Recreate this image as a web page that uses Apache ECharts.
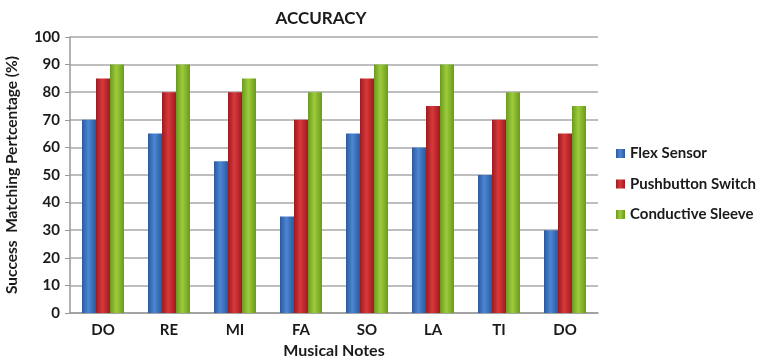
<!DOCTYPE html>
<html><head><meta charset="utf-8">
<script src="https://cdn.jsdelivr.net/npm/echarts@6/dist/echarts.min.js"></script>
<style>html,body{margin:0;padding:0;background:#fff}#c{width:762px;height:360px}</style>
</head><body><div id="c"></div>
<script>
const categories = ['DO','RE','MI','FA','SO','LA','TI','DO'];
const flexSensor = [70,65,55,35,65,60,50,30];
const pushbuttonSwitch = [85,80,80,70,85,75,70,65];
const conductiveSleeve = [90,90,85,80,90,90,80,75];
const yTicks = [0,10,20,30,40,50,60,70,80,90,100];

const font = 'Lato, "Open Sans", sans-serif';
function grad(dark, light){
  return new echarts.graphic.LinearGradient(0,0,1,0,[
    {offset:0,color:dark},{offset:0.45,color:light},{offset:1,color:dark}]);
}
const chart = echarts.init(document.getElementById('c'));
chart.setOption({
  animation:false,
  title:{text:'ACCURACY',left:316,top:5,textAlign:'center',
    textStyle:{fontFamily:font,fontWeight:'bold',fontSize:17,color:'#1a1a1a'}},
  legend:{orient:'vertical',left:611,top:141,itemGap:15.5,itemWidth:9,itemHeight:9,
    icon:'rect',textStyle:{fontFamily:font,fontWeight:'bold',fontSize:15,color:'#1a1a1a'},
    data:['Flex Sensor','Pushbutton Switch','Conductive Sleeve']},
  grid:{left:70,right:164,top:37,bottom:47,containLabel:false,outerBoundsMode:'none'},
  xAxis:{type:'category',data:categories,
    name:'Musical Notes',nameLocation:'middle',nameGap:29,
    nameTextStyle:{fontFamily:font,fontWeight:'bold',fontSize:16,color:'#1a1a1a'},
    axisLine:{lineStyle:{color:'#999',width:1.5}},axisTick:{show:false},
    axisLabel:{fontFamily:font,fontWeight:'bold',fontSize:15,color:'#1a1a1a',margin:10}},
  yAxis:{type:'value',min:yTicks[0],max:yTicks[yTicks.length-1],interval:10,
    name:'Success  Matching Pertcentage (%)',nameLocation:'middle',nameGap:50,
    nameTextStyle:{fontFamily:font,fontWeight:'bold',fontSize:15.5,color:'#1a1a1a'},
    axisLine:{show:true,lineStyle:{color:'#999',width:1.5}},
    axisTick:{show:true,length:5,lineStyle:{color:'#999'}},
    axisLabel:{fontFamily:font,fontWeight:'bold',fontSize:15,color:'#1a1a1a',margin:10},
    splitLine:{lineStyle:{color:'#a8a8a8',width:1.5}}},
  series:[
    {name:'Flex Sensor',type:'bar',data:flexSensor,barWidth:14,barGap:'0%',
      itemStyle:{color:grad('#2a5a9e','#4d86d3')}},
    {name:'Pushbutton Switch',type:'bar',data:pushbuttonSwitch,barWidth:14,barGap:'0%',
      itemStyle:{color:grad('#9e1a1f','#d8393c')}},
    {name:'Conductive Sleeve',type:'bar',data:conductiveSleeve,barWidth:14,barGap:'0%',
      itemStyle:{color:grad('#6a9a1e','#9dcb3c')}}
  ]
});
</script></body></html>
